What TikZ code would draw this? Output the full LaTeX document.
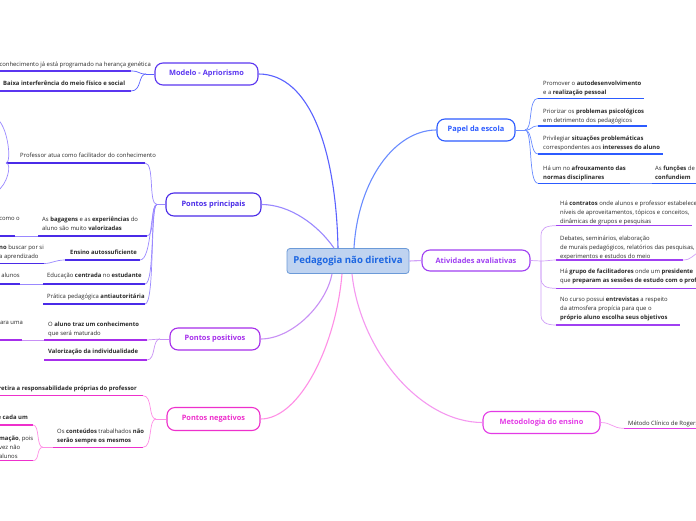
\documentclass[tikz,border=0pt]{standalone}
\usepackage{fontspec}
\setmainfont{Open Sans}
\definecolor{cenFill}{HTML}{BFD3F0}
\definecolor{cenDraw}{HTML}{6B9AD8}
\definecolor{cenText}{HTML}{1C66E2}
\definecolor{modC}{HTML}{5B36F0}
\definecolor{modL}{HTML}{5A62FF}
\definecolor{papC}{HTML}{2C5BFF}
\definecolor{papL}{HTML}{6A8CFF}
\definecolor{priC}{HTML}{4A2BE8}
\definecolor{priL}{HTML}{9A88FF}
\definecolor{atiC}{HTML}{A040F2}
\definecolor{atiL}{HTML}{D0A0F8}
\definecolor{posC}{HTML}{A62EEB}
\definecolor{posL}{HTML}{C890F5}
\definecolor{negC}{HTML}{EE30CC}
\definecolor{negL}{HTML}{FF8FE6}
\definecolor{metC}{HTML}{E33BE6}
\definecolor{metL}{HTML}{F598F0}
\definecolor{txtc}{HTML}{2A2A2A}
\tikzset{
 topic/.style={draw=#1, text=#1, fill=white, line width=1.1pt, rounded corners=8pt, minimum height=22pt, inner sep=0pt, font=\fontsize{7.4}{8}\selectfont\bfseries},
 txl/.style={anchor=north west, inner sep=0pt, align=left, text=txtc, font=\fontsize{5.9}{8.9}\selectfont},
 txr/.style={anchor=north east, inner sep=0pt, align=right, text=txtc, font=\fontsize{5.9}{8.9}\selectfont},
 ul/.style={draw=#1, line width=1.4pt},
 br/.style={draw=#1, line width=0.7pt},
 mainln/.style={draw=#1, line width=1.1pt},
}
\begin{document}
\begin{tikzpicture}[x=1pt,y=-1pt]
\fill[white] (0,0) rectangle (696,520);
\useasboundingbox (0,0) rectangle (696,520);

% ---------- central and topics ----------
\node[draw=cenDraw, fill=cenFill, text=cenText, rounded corners=3pt, line width=0.8pt,
  minimum width=122pt, minimum height=25pt, inner sep=0pt,
  font=\fontsize{9.6}{11}\selectfont\bfseries] (cen) at (348,261) {Pedagogia não diretiva};

\node[topic=modC, minimum width=103pt] (mod) at (206.5,74) {Modelo - Apriorismo};
\node[topic=papC, minimum width=78pt] (pap) at (476,130) {Papel da escola};
\node[topic=priC, minimum width=95pt, minimum height=23pt] (pri) at (213.5,204.5) {Pontos principais};
\node[topic=atiC, minimum width=108pt, minimum height=21pt] (ati) at (476,260.5) {Atividades avaliativas};
\node[topic=posC, minimum width=90pt] (pos) at (215,339) {Pontos positivos};
\node[topic=negC, minimum width=93pt, minimum height=23pt] (neg) at (213.5,419) {Pontos negativos};
\node[topic=metC, minimum width=117pt] (met) at (541.5,422.5) {Metodologia do ensino};

% ---------- central connectors ----------
\draw[mainln=modL] ([xshift=-10pt]cen.north) .. controls (336,150) and (310,74) .. (mod.east);
\draw[mainln=papL] ([xshift=6pt]cen.north) .. controls (358,180) and (395,130) .. (pap.west);
\draw[mainln=priL] ([xshift=-14pt]cen.north) .. controls (318,225) and (290,204.5) .. (pri.east);
\draw[mainln=atiL] (cen.east) -- (ati.west);
\draw[mainln=posL] ([xshift=-16pt]cen.south) .. controls (326,305) and (292,339) .. (pos.east);
\draw[mainln=negL] ([xshift=-6pt]cen.south) .. controls (336,345) and (300,419) .. (neg.east);
\draw[mainln=metL] ([xshift=4pt]cen.south) .. controls (360,350) and (420,422.5) .. (met.west);

% ---------- Modelo - Apriorismo ----------
\coordinate (modB) at (146,74);
\draw[br=modL] (mod.west) -- (modB);
\node[txr] (m1) at (151,62.2) {O conhecimento já está programado na herança genética};
\coordinate (m1a) at (-5,71); \coordinate (m1b) at (131,71);
\draw[ul=modC] (m1a) -- (m1b);
\draw[br=modL] (m1b) .. controls (140,71) and (138,74) .. (modB);
\node[txl] (m2) at (3,81.2) {\textbf{Baixa interferência do meio físico e social}};
\coordinate (m2a) at (-5,91); \coordinate (m2b) at (131,91);
\draw[ul=modC] (m2a) -- (m2b);
\draw[br=modL] (m2b) .. controls (142,91) and (138,74) .. (modB);

% ---------- Pontos principais ----------
\coordinate (priB) at (157,204.5);
\draw[br=priL] (pri.west) -- (priB);
\node[txl] (p1) at (20,152.9) {Professor atua como facilitador do conhecimento};
\coordinate (p1a) at (6,163); \coordinate (p1b) at (145,163);
\draw[ul=priC] (p1a) -- (p1b);
\draw[br=priL] (p1b) .. controls (155,163) and (148,204.5) .. (priB);
\coordinate (p1u) at (-4,118); \coordinate (p1d) at (-4,192);
\draw[br=priL] (p1a) .. controls (12,163) and (8,125) .. (p1u);
\draw[br=priL] (p1a) .. controls (12,163) and (8,185) .. (p1d);

\node[txl] (p2) at (42,217.2) {As \textbf{bagagens} e as \textbf{experiências} do\\aluno são muito \textbf{valorizadas}};
\coordinate (p2a) at (38,236); \coordinate (p2b) at (147,236);
\draw[ul=priC] (p2a) -- (p2b);
\draw[br=priL] (p2b) .. controls (155,236) and (150,204.5) .. (priB);
\node[txr] (p2s) at (20,217.2) {como o};
\coordinate (p2sa) at (-5,236); \coordinate (p2sb) at (15,236);
\draw[ul=priC] (p2sa) -- (p2sb);
\draw[br=priL] (p2sb) -- (p2a);

\node[txl] (p3) at (70,249.9) {\textbf{Ensino autossuficiente}};
\coordinate (p3a) at (65,260); \coordinate (p3b) at (140,260);
\draw[ul=priC] (p3a) -- (p3b);
\draw[br=priL] (p3b) .. controls (152,260) and (150,204.5) .. (priB);
\node[txl] (p3s) at (-1,245.2) {\textbf{no} buscar por si\\a aprendizado};
\coordinate (p3sa) at (-5,263.5); \coordinate (p3sb) at (44,263.5);
\draw[ul=priC] (p3sa) -- (p3sb);
\draw[br=priL] (p3sb) .. controls (52,263.5) and (55,260) .. (p3a);

\node[txl] (p4) at (47,273.2) {Educação \textbf{centrada} no \textbf{estudante}};
\coordinate (p4a) at (43,284); \coordinate (p4b) at (145,284);
\draw[ul=priC] (p4a) -- (p4b);
\draw[br=priL] (p4b) .. controls (155,284) and (150,204.5) .. (priB);
\node[txr] (p4s) at (20,273.2) {alunos};
\coordinate (p4sa) at (-5,284); \coordinate (p4sb) at (20,284);
\draw[ul=priC] (p4sa) -- (p4sb);
\draw[br=priL] (p4sb) -- (p4a);

\node[txl] (p5) at (47,294.2) {Prática pedagógica \textbf{antiautoritária}};
\coordinate (p5a) at (43,304); \coordinate (p5b) at (145,304);
\draw[ul=priC] (p5a) -- (p5b);
\draw[br=priL] (p5b) .. controls (155,304) and (150,204.5) .. (priB);

% ---------- Pontos positivos ----------
\coordinate (posB) at (160,339);
\draw[br=posL] (pos.west) -- (posB);
\node[txl] (q1) at (48,321.5) {O \textbf{aluno traz um conhecimento}\\que será maturado};
\coordinate (q1a) at (44,340); \coordinate (q1b) at (147,340);
\draw[ul=posC] (q1a) -- (q1b);
\draw[br=posL] (q1b) .. controls (153,340) and (154,339) .. (posB);
\node[txr] (q1s) at (23,321.5) {ara uma};
\coordinate (q1sa) at (-5,340); \coordinate (q1sb) at (22,340);
\draw[ul=posC] (q1sa) -- (q1sb);
\draw[br=posL] (q1sb) -- (q1a);
\node[txl] (q2) at (48,348.9) {\textbf{Valorização da individualidade}};
\coordinate (q2a) at (44,360); \coordinate (q2b) at (147,360);
\draw[ul=posC] (q2a) -- (q2b);
\draw[br=posL] (q2b) .. controls (156,360) and (152,339) .. (posB);

% ---------- Pontos negativos ----------
\coordinate (negB) at (156,419);
\draw[br=negL] (neg.west) -- (negB);
\node[txr] (n1) at (137,386.2) {\textbf{retira a responsabilidade próprias do professor}};
\coordinate (n1a) at (-5,395.7); \coordinate (n1b) at (143,395.7);
\draw[ul=negC] (n1a) -- (n1b);
\draw[br=negL] (n1b) .. controls (153,395.7) and (148,419) .. (negB);
\node[txl] (n2) at (57,428.9) {Os \textbf{conteúdos} trabalhados \textbf{não}\\\textbf{serão sempre os mesmos}};
\coordinate (n2a) at (53,447.3); \coordinate (n2b) at (143,447.3);
\draw[ul=negC] (n2a) -- (n2b);
\draw[br=negL] (n2b) .. controls (153,447.3) and (148,419) .. (negB);
\coordinate (n2B) at (43,447.3);
\draw[br=negL] (n2a) -- (n2B);
\node[txr] (n2u) at (28,415.2) {\textbf{e cada um}};
\coordinate (n2ua) at (-5,425); \coordinate (n2ub) at (33,425);
\draw[ul=negC] (n2ua) -- (n2ub);
\draw[br=negL] (n2B) .. controls (36,447.3) and (40,425) .. (n2ub);
\node[txl] (n2d) at (-1,436.2) {\textbf{mação}, pois\\vez não\\alunos};
\coordinate (n2da) at (-5,460.7); \coordinate (n2db) at (33,460.7);
\draw[ul=negC] (n2da) -- (n2db);
\draw[br=negL] (n2B) .. controls (36,447.3) and (40,460.7) .. (n2db);

% ---------- Papel da escola ----------
\coordinate (papB) at (525,130);
\draw[br=papL] (pap.east) -- (papB);
\node[txl] (r1) at (543,80.5) {Promover o \textbf{autodesenvolvimento}\\e a \textbf{realização pessoal}};
\coordinate (r1a) at (538,98.3); \coordinate (r1b) at (644,98.3);
\draw[ul=papC] (r1a) -- (r1b);
\draw[br=papL] (papB) .. controls (533,130) and (528,98.3) .. (r1a);
\node[txl] (r2) at (543,108.9) {Priorizar os \textbf{problemas psicológicos}\\ em detrimento dos pedagógicos};
\coordinate (r2a) at (538,126) ; \coordinate (r2b) at (647,126);
\draw[ul=papC] (r2a) -- (r2b);
\draw[br=papL] (papB) .. controls (533,130) and (530,126) .. (r2a);
\node[txl] (r3) at (543,135.5) {Privilegiar \textbf{situações problemáticas}\\ correspondentes aos \textbf{interesses do aluno}};
\coordinate (r3a) at (538,154); \coordinate (r3b) at (663,154);
\draw[ul=papC] (r3a) -- (r3b);
\draw[br=papL] (papB) .. controls (533,130) and (530,154) .. (r3a);
\node[txl] (r4) at (543,165.5) {Há um no \textbf{afrouxamento das}\\\textbf{normas disciplinares}};
\coordinate (r4a) at (538,183.3); \coordinate (r4b) at (630,183.3);
\draw[ul=papC] (r4a) -- (r4b);
\draw[br=papL] (papB) .. controls (533,130) and (528,183.3) .. (r4a);
\node[txl] (r4s) at (655,165.5) {As \textbf{funções} de\\ \textbf{confundiem}};
\coordinate (r4sa) at (652,183.3); \coordinate (r4sb) at (702,183.3);
\draw[br=papL] (r4b) -- (r4sa);
\draw[ul=papC] (r4sa) -- (r4sb);

% ---------- Atividades avaliativas ----------
\coordinate (atiB) at (541,261);
\draw[br=atiL] (ati.east) -- (atiB);
\node[txl] (a1) at (560,201.2) {Há \textbf{contratos} onde alunos e professor estabelecem\\níveis de aproveitamentos, tópicos e conceitos,\\dinâmicas de grupos e pesquisas};
\coordinate (a1a) at (556,225.7); \coordinate (a1b) at (692,225.7);
\draw[ul=atiC] (a1a) -- (a1b);
\draw[br=atiL] (atiB) -- (541,236) .. controls (541,228) and (546,225.7) .. (a1a);
\node[txl] (a2) at (560,235.5) {Debates, seminários, elaboração\\de murais pedagógicos, relatórios das pesquisas,\\experimentos e estudos do meio};
\coordinate (a2a) at (556,260); \coordinate (a2b) at (683,260);
\coordinate (a2c) at (700,252);
\draw[ul=atiC] (a2a) -- (a2b);
\draw[br=atiL] (atiB) .. controls (548,261) and (550,260) .. (a2a);
\draw[br=atiL] (a2b) .. controls (692,260) and (693,254) .. (a2c);
\node[txl] (a3) at (560,268.9) {Há \textbf{grupo de facilitadores} onde um \textbf{presidente}\\que \textbf{preparam as sessões de estudo com o professor}};
\coordinate (a3a) at (556,288.3); \coordinate (a3b) at (702,288.3);
\draw[ul=atiC] (a3a) -- (a3b);
\draw[br=atiL] (atiB) -- (541,278) .. controls (541,286) and (546,288.3) .. (a3a);
\node[txl] (a4) at (560,297.2) {No curso possui \textbf{entrevistas} a respeito\\da atmosfera propícia para que o\\\textbf{próprio aluno escolha seus objetivos}};
\coordinate (a4a) at (556,325); \coordinate (a4b) at (680,325);
\draw[ul=atiC] (a4a) -- (a4b);
\draw[br=atiL] (atiB) -- (541,315) .. controls (541,322) and (546,325) .. (a4a);

% ---------- Metodologia do ensino ----------
\node[txl] (mt1) at (628,420.5) {Método Clínico de Rogers};
\coordinate (mt1a) at (624,428.3); \coordinate (mt1b) at (702,428.3);
\draw[ul=metC] (mt1a) -- (mt1b);
\draw[br=metL] (met.east) .. controls (612,422.5) and (612,428.3) .. (mt1a);
\end{tikzpicture}
\end{document}
